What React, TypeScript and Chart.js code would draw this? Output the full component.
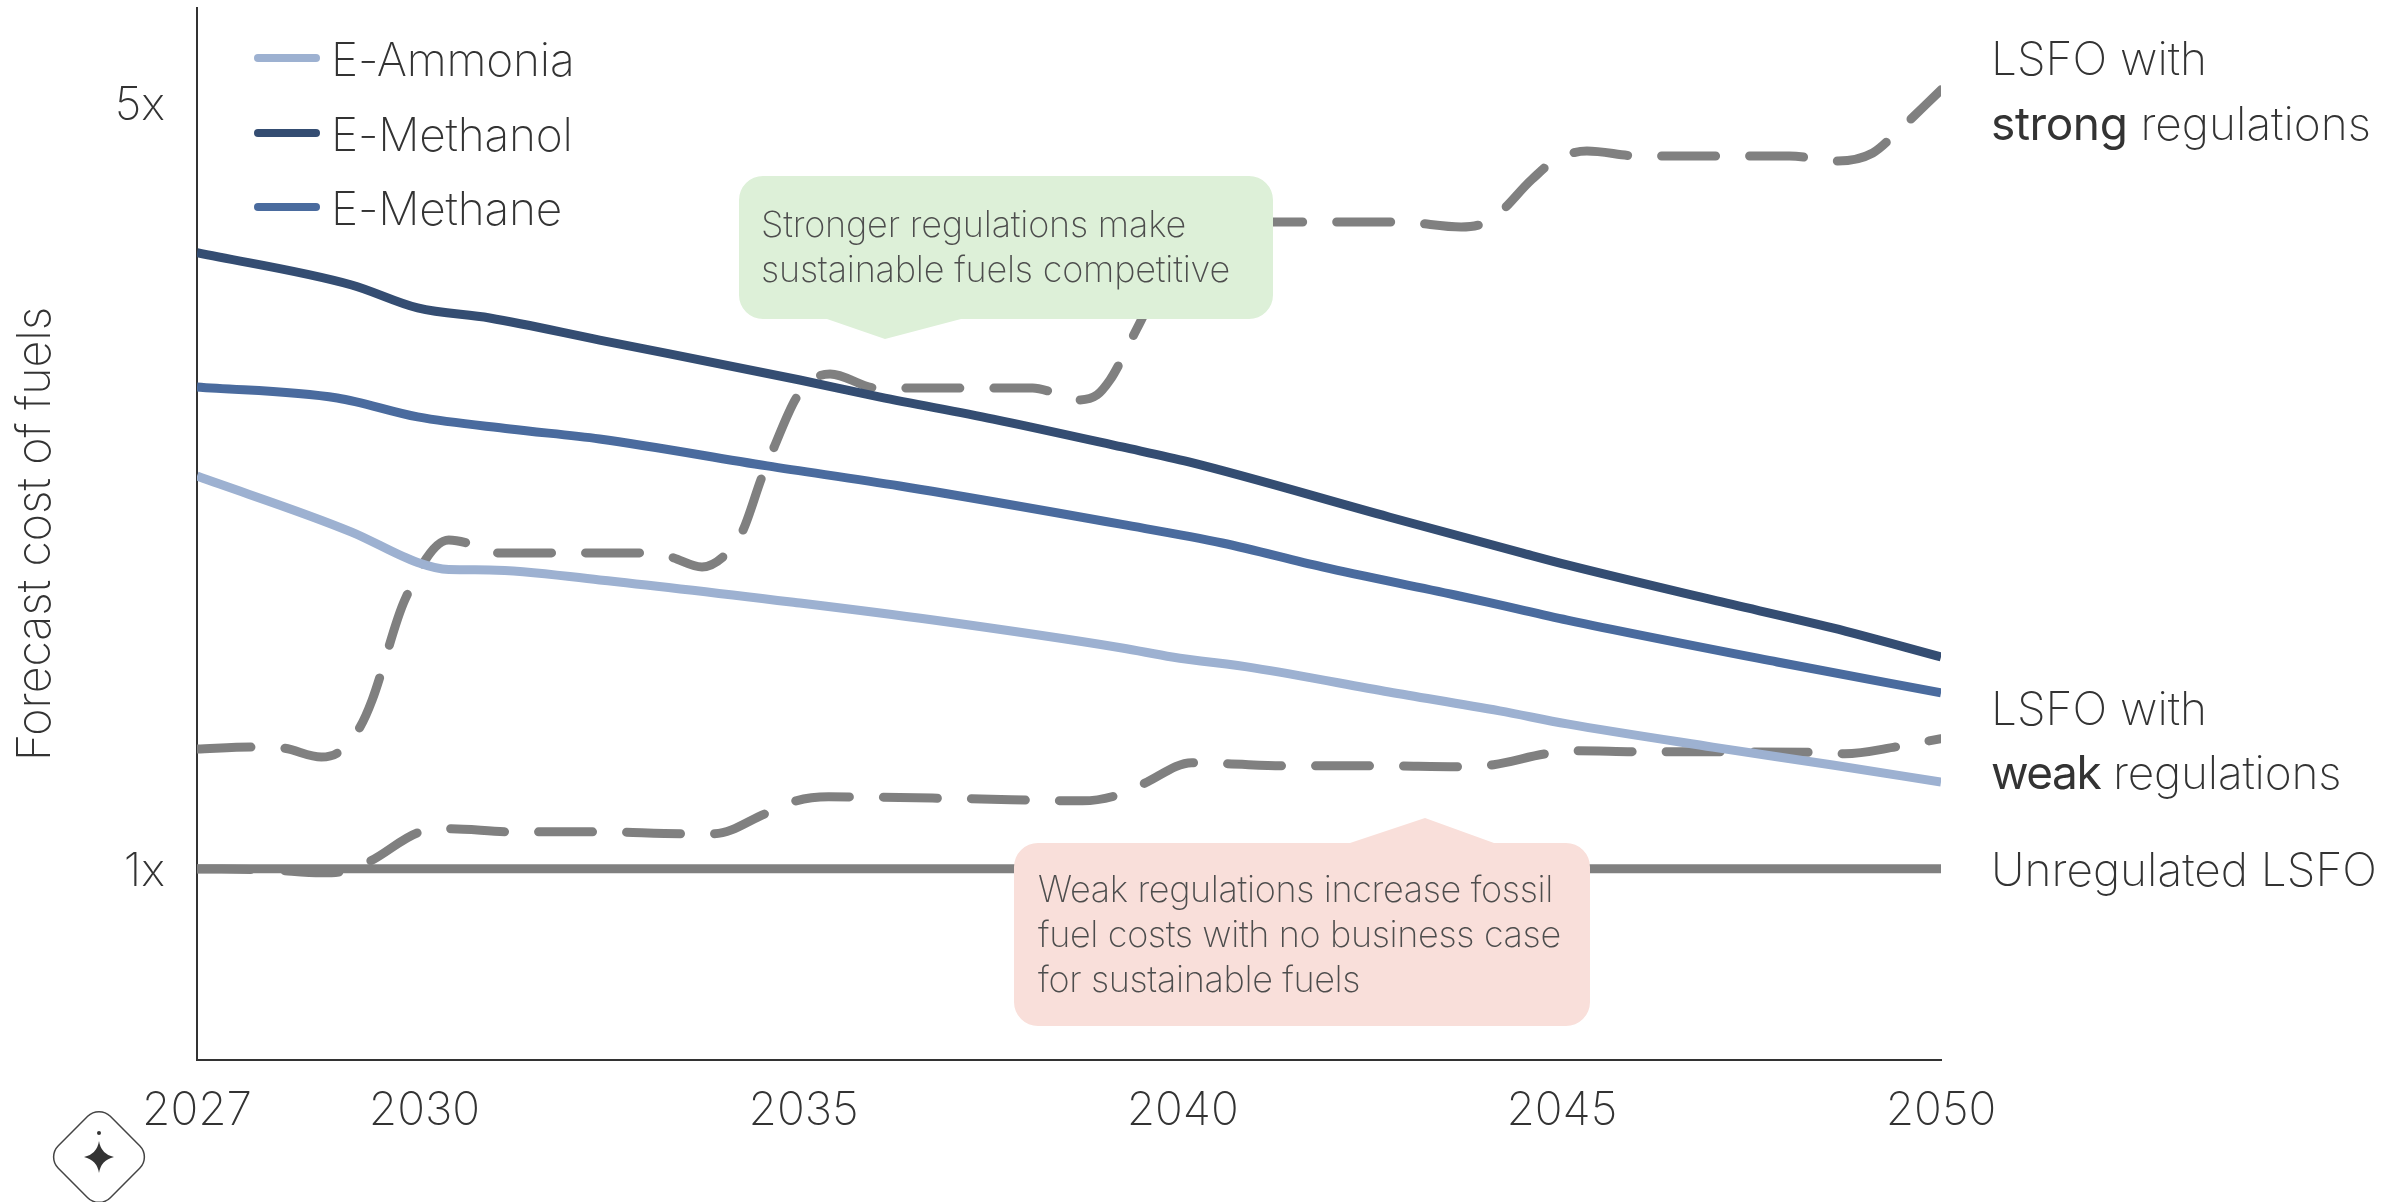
import React, { useEffect, useRef } from "react";
import { Chart, registerables } from "chart.js";

Chart.register(...registerables);

const xTicks = [2027, 2030, 2035, 2040, 2045, 2050];
const yTicks = [1, 5];

const ammoniaYears = [2027, 2029.04, 2029.91, 2030.32, 2030.86, 2032.31, 2034.95, 2036.71, 2039.2, 2039.86, 2040.95, 2042.72, 2044.18, 2045.07, 2046.99, 2048.57, 2050];
const ammoniaValues = [3.053, 2.76, 2.601, 2.564, 2.562, 2.51, 2.389, 2.3, 2.154, 2.107, 2.049, 1.924, 1.825, 1.757, 1.636, 1.542, 1.453];

const methanolYears = [2027, 2029.04, 2029.91, 2030.86, 2032.31, 2034.95, 2036.01, 2037.5, 2039.2, 2040.08, 2042.72, 2044.47, 2045.07, 2046.99, 2048.57, 2050];
const methanolValues = [4.221, 4.052, 3.932, 3.879, 3.764, 3.555, 3.466, 3.351, 3.205, 3.127, 2.839, 2.651, 2.588, 2.405, 2.259, 2.107];

const methaneYears = [2027, 2028.85, 2029.91, 2031.13, 2032.31, 2034.52, 2036.27, 2039.2, 2040.52, 2041.84, 2043.59, 2044.18, 2045.07, 2047.84, 2050];
const methaneValues = [3.519, 3.461, 3.362, 3.299, 3.247, 3.106, 3.001, 2.8, 2.703, 2.578, 2.431, 2.379, 2.3, 2.081, 1.919];

const strongYears = [2027, 2027.74, 2028.13, 2028.64, 2028.87, 2029.15, 2029.31, 2029.74, 2030.32, 2030.56, 2030.89, 2032.84, 2033.24, 2033.66, 2033.95, 2034.19, 2034.45, 2034.6, 2034.91, 2035.18, 2035.35, 2035.97, 2038.02, 2038.28, 2038.62, 2038.87, 2039.04, 2039.17, 2039.34, 2039.46, 2039.77, 2040.16, 2040.56, 2042.86, 2043.67, 2044.06, 2044.61, 2044.91, 2045.33, 2046.02, 2048, 2048.64, 2049.1, 2049.41, 2050];
const strongValues = [1.626, 1.636, 1.631, 1.584, 1.61, 1.741, 1.882, 2.405, 2.719, 2.703, 2.651, 2.651, 2.63, 2.578, 2.635, 2.761, 3.048, 3.194, 3.466, 3.571, 3.587, 3.513, 3.513, 3.492, 3.451, 3.477, 3.555, 3.644, 3.78, 3.874, 4.13, 4.313, 4.381, 4.381, 4.355, 4.392, 4.606, 4.705, 4.752, 4.726, 4.726, 4.7, 4.742, 4.847, 5.072];

const weakYears = [2027, 2027.96, 2028.64, 2028.95, 2029.29, 2029.91, 2030.35, 2031.13, 2032.31, 2033.42, 2033.82, 2034.49, 2034.9, 2035.33, 2037.18, 2038.68, 2039.11, 2039.48, 2040.12, 2040.58, 2041.37, 2042.53, 2043.68, 2044.1, 2044.79, 2045.21, 2046, 2048.31, 2048.73, 2049.42, 2050];
const weakValues = [0.999, 0.994, 0.979, 0.989, 1.041, 1.188, 1.209, 1.193, 1.193, 1.183, 1.183, 1.287, 1.355, 1.376, 1.366, 1.355, 1.381, 1.444, 1.554, 1.549, 1.538, 1.538, 1.533, 1.544, 1.601, 1.617, 1.612, 1.609, 1.601, 1.638, 1.68];

const baseYears = [2027, 2050];
const baseValues = [1, 1];

const FONT = "Inter";
const TEXT = "#333333";
const pts = (xs: number[], ys: number[]) => xs.map((x, i) => ({ x, y: ys[i] }));

const legendRows = [58, 133, 207];

function bubble(ctx: any, x0: number, y0: number, x1: number, y1: number, r: number, base: number[], tip: number[], up: boolean, fill: string) {
  ctx.beginPath();
  ctx.moveTo(x0 + r, y0);
  if (up) {
    ctx.lineTo(base[0], y0);
    ctx.lineTo(tip[0], tip[1]);
    ctx.lineTo(base[1], y0);
  }
  ctx.arcTo(x1, y0, x1, y1, r);
  ctx.arcTo(x1, y1, x0, y1, r);
  if (!up) {
    ctx.lineTo(base[1], y1);
    ctx.lineTo(tip[0], tip[1]);
    ctx.lineTo(base[0], y1);
  }
  ctx.arcTo(x0, y1, x0, y0, r);
  ctx.arcTo(x0, y0, x1, y0, r);
  ctx.closePath();
  ctx.fillStyle = fill;
  ctx.fill();
}

const decorations = {
  id: "decorations",
  afterDatasetsDraw(chart: any) {
    const ctx = chart.ctx;
    ctx.save();
    ctx.textBaseline = "alphabetic";
    ctx.textAlign = "left";

    // callouts
    bubble(ctx, 739, 176, 1273, 319, 24, [827, 961], [885, 339], false, "#DDF0D8");
    bubble(ctx, 1014, 843, 1590, 1026, 24, [1350, 1494], [1425, 818], true, "#F9DFDA");
    ctx.font = `200 36px ${FONT}`;
    ctx.fillStyle = "#4D4D4D";
    ctx.letterSpacing = "-0.2px";
    ctx.fillText("Stronger regulations make", 761, 237);
    ctx.fillText("sustainable fuels competitive", 761, 282);
    ctx.letterSpacing = "-0.35px";
    ctx.fillText("Weak regulations increase fossil", 1038, 902);
    ctx.fillText("fuel costs with no business case", 1038, 947);
    ctx.fillText("for sustainable fuels", 1038, 992);

    // legend
    ctx.letterSpacing = "-0.2px";
    ctx.font = `200 46px ${FONT}`;
    chart.data.datasets.slice(0, 3).forEach((d: any, i: number) => {
      const y = legendRows[i];
      ctx.beginPath();
      ctx.moveTo(258, y);
      ctx.lineTo(316, y);
      ctx.lineWidth = 8;
      ctx.lineCap = "round";
      ctx.strokeStyle = d.borderColor;
      ctx.stroke();
      ctx.fillStyle = TEXT;
      ctx.textBaseline = "middle";
      ctx.fillText(d.label, 331, y + 4);
    });
    ctx.textBaseline = "alphabetic";
    ctx.letterSpacing = "0px";

    // direct labels
    const put = (parts: [string, number, string][], x: number, y: number) => {
      let cx = x;
      parts.forEach(([t, w, sp]) => {
        ctx.font = `${w} 46px ${FONT}`;
        ctx.letterSpacing = sp;
        ctx.fillStyle = TEXT;
        ctx.fillText(t, cx, y);
        cx += ctx.measureText(t).width;
      });
    };
    put([["LSFO with", 200, "0px"]], 1991, 75);
    put([["strong", 400, "-0.4px"], [" regulations", 200, "0px"]], 1991, 140);
    put([["LSFO with", 200, "0px"]], 1991, 725);
    put([["weak", 400, "-1.5px"], [" regulations", 200, "-0.2px"]], 1991, 789);
    put([["Unregulated LSFO", 200, "0px"]], 1991, 886);

    // badge
    const cx = 99, cy = 1157, r = 16;
    ctx.beginPath();
    ctx.moveTo(cx - 26, cy - 26);
    ctx.arcTo(cx, 1105, cx + 52, cy, r);
    ctx.arcTo(cx + 52, cy, cx, 1209, r);
    ctx.arcTo(cx, 1209, cx - 52, cy, r);
    ctx.arcTo(cx - 52, cy, cx, 1105, r);
    ctx.closePath();
    ctx.lineWidth = 1.5;
    ctx.strokeStyle = "#444444";
    ctx.stroke();
    ctx.fillStyle = "#333333";
    ctx.beginPath();
    ctx.arc(cx, 1133, 2, 0, Math.PI * 2);
    ctx.fill();
    ctx.beginPath();
    ctx.moveTo(cx, cy - 16);
    ctx.quadraticCurveTo(cx + 2, cy - 3, cx + 15, cy);
    ctx.quadraticCurveTo(cx + 2, cy + 3, cx, cy + 16);
    ctx.quadraticCurveTo(cx - 2, cy + 3, cx - 15, cy);
    ctx.quadraticCurveTo(cx - 2, cy - 3, cx, cy - 16);
    ctx.fill();
    ctx.restore();
  },
};

export default function App() {
  const ref = useRef<HTMLCanvasElement>(null);
  useEffect(() => {
    document.body.style.margin = "0";
    const line = (label: string, xs: number[], ys: number[], color: string, dash: number[] = []) => ({
      label,
      data: pts(xs, ys),
      borderColor: color,
      backgroundColor: color,
      borderWidth: 9,
      borderDash: dash,
      borderCapStyle: dash.length ? "round" : "butt",
      pointRadius: 0,
      cubicInterpolationMode: "monotone",
      fill: false,
    });
    const chart = new Chart(ref.current as HTMLCanvasElement, {
      type: "line",
      data: {
        datasets: [
          line("E-Ammonia", ammoniaYears, ammoniaValues, "#9DB1D1"),
          line("E-Methanol", methanolYears, methanolValues, "#344D72"),
          line("E-Methane", methaneYears, methaneValues, "#4A6B9E"),
          line("Unregulated LSFO", baseYears, baseValues, "#808080"),
          line("LSFO with weak regulations", weakYears, weakValues, "#808080", [54, 34]),
          line("LSFO with strong regulations", strongYears, strongValues, "#808080", [54, 34]),
        ] as any,
      },
      options: {
        animation: false,
        responsive: false,
        layout: { padding: { left: 0, top: 8, right: 466, bottom: 0 }, autoPadding: false },
        plugins: { legend: { display: false }, tooltip: { enabled: false } },
        scales: {
          x: {
            type: "linear",
            min: 2027,
            max: 2050,
            afterBuildTicks: (s: any) => { s.ticks = xTicks.map((value) => ({ value })); },
            afterFit: (s: any) => { s.height = 142; s.paddingLeft = 0; s.paddingRight = 0; s.paddingTop = 0; s.paddingBottom = 0; },
            grid: { display: false, drawTicks: false },
            border: { display: true, color: "#333333", width: 2 },
            ticks: {
              autoSkip: false,
              maxRotation: 0,
              padding: 24,
              color: TEXT,
              font: { family: FONT, size: 46, weight: 200 },
              callback: (v: any) => String(v),
            },
          },
          y: {
            type: "linear",
            min: 0,
            max: 5.5,
            afterBuildTicks: (s: any) => { s.ticks = yTicks.map((value) => ({ value })); },
            afterFit: (s: any) => { s.width = 197; s.paddingLeft = 0; s.paddingRight = 0; s.paddingTop = 0; s.paddingBottom = 0; },
            grid: { display: false, drawTicks: false },
            border: { display: true, color: "#333333", width: 2 },
            ticks: {
              autoSkip: false,
              padding: 32,
              labelOffset: 3,
              color: TEXT,
              font: { family: FONT, size: 46, weight: 200 },
              callback: (v: any) => `${v}x`,
            },
            title: {
              display: true,
              text: "Forecast cost of fuels",
              color: TEXT,
              font: { family: FONT, size: 46.5, weight: 200 },
              padding: { top: 8, bottom: 0 },
            },
          },
        },
      },
      plugins: [decorations],
    } as any);
    return () => chart.destroy();
  }, []);
  return <canvas ref={ref} width={2407} height={1202} style={{ display: "block" }} />;
}
